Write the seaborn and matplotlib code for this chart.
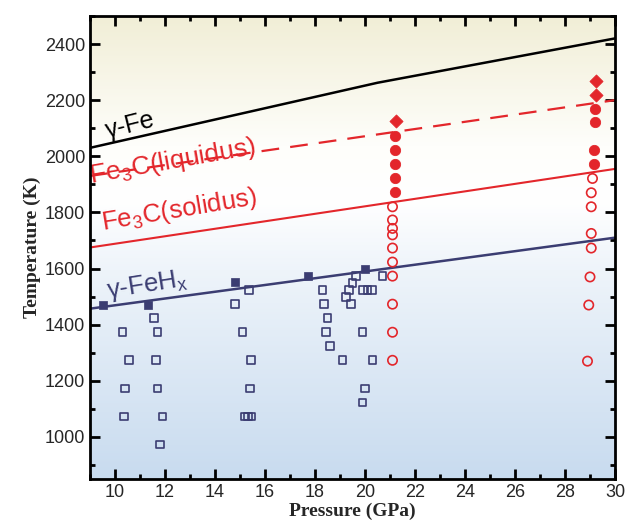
import numpy as np
import pandas as pd
import seaborn as sns
import matplotlib
matplotlib.use("Agg")
import matplotlib.pyplot as plt
from matplotlib.colors import LinearSegmentedColormap
from matplotlib.ticker import MultipleLocator

# phase boundaries (pressure GPa, temperature K)
fe_P = [9, 20.5, 30]
fe_T = [2030, 2262, 2420]
liq_P = [9, 30]
liq_T = [1930, 2200]
sol_P = [9, 30]
sol_T = [1675, 1955]
feh_P = [9, 30]
feh_T = [1457, 1710]

# gamma-FeHx, filled squares
sqf_P = [9.5, 11.3, 14.8, 17.7, 20.0]
sqf_T = [1470, 1470, 1552, 1573, 1597]

# open squares
sqo_P = [10.3, 10.55, 10.4, 10.35, 11.55, 11.7, 11.65, 11.7, 11.9, 11.8,
         14.8, 15.35, 15.1, 15.45, 15.4, 15.2, 15.33, 15.46,
         18.3, 18.35, 18.5, 18.45, 18.6, 19.1, 19.9, 20.3, 20.0, 19.9,
         19.65, 19.5, 19.35, 19.25, 19.45, 19.93, 20.1, 20.27, 20.7]
sqo_T = [1373, 1273, 1173, 1073, 1423, 1373, 1273, 1173, 1073, 973,
         1473, 1523, 1373, 1273, 1173, 1073, 1073, 1073,
         1523, 1473, 1423, 1373, 1323, 1273, 1373, 1273, 1173, 1123,
         1573, 1548, 1523, 1498, 1473, 1523, 1523, 1523, 1573]

# Fe3C runs: filled circles (melt), open circles (solid), diamonds
cf_P = [21.2, 21.2, 21.2, 21.2, 21.2, 29.2, 29.2, 29.15, 29.15]
cf_T = [2073, 2023, 1973, 1923, 1873, 2168, 2123, 2023, 1973]
co_P = [21.1, 21.1, 21.1, 21.1, 21.1, 21.1, 21.1, 21.1, 21.1, 21.1,
        29.1, 29.05, 29.05, 29.05, 29.05, 29.0, 28.95, 28.9]
co_T = [1820, 1773, 1743, 1720, 1673, 1623, 1573, 1473, 1373, 1273,
        1921, 1870, 1820, 1725, 1673, 1570, 1470, 1270]
dm_P = [21.25, 29.25, 29.25]
dm_T = [2125, 2268, 2220]

red = "#e3262b"
navy = "#3b3d72"

sns.set_style("ticks")
plt.rcParams["font.family"] = ["Liberation Sans", "DejaVu Sans"]

fig = plt.figure(figsize=(6.25, 5.32), dpi=100)
ax = fig.add_axes([0.144, 0.0996, 0.84, 0.8704])

# background gradient
cmap = LinearSegmentedColormap.from_list(
    "bg", [(0.0, "#c8dbef"), (0.45, "#eef4fa"), (0.6, "#ffffff"),
           (0.72, "#fefefb"), (1.0, "#f1eed6")])
grad = np.linspace(0, 1, 256).reshape(-1, 1)
ax.imshow(grad, cmap=cmap, origin="lower", aspect="auto",
          extent=[9, 30, 850, 2500], zorder=0)

sns.lineplot(x=fe_P, y=fe_T, color="black", lw=1.8, ax=ax, zorder=2)
sns.lineplot(x=liq_P, y=liq_T, color=red, lw=1.6, ax=ax, zorder=2,
             dashes=False).lines[-1].set_dashes([8, 5])
sns.lineplot(x=sol_P, y=sol_T, color=red, lw=1.5, ax=ax, zorder=2)
sns.lineplot(x=feh_P, y=feh_T, color=navy, lw=1.8, ax=ax, zorder=2)

sns.scatterplot(x=sqo_P, y=sqo_T, marker="s", s=30, facecolor="none",
                edgecolor=navy, linewidth=1.2, ax=ax, zorder=3)
sns.scatterplot(x=sqf_P, y=sqf_T, marker="s", s=40, color=navy,
                edgecolor=navy, ax=ax, zorder=3)
sns.scatterplot(x=co_P, y=co_T, marker="o", s=45, facecolor="none",
                edgecolor=red, linewidth=1.2, ax=ax, zorder=3)
sns.scatterplot(x=cf_P, y=cf_T, marker="o", s=55, color=red,
                edgecolor=red, ax=ax, zorder=3)
sns.scatterplot(x=dm_P, y=dm_T, marker="D", s=45, color=red,
                edgecolor=red, ax=ax, zorder=3)

ax.text(9.7, 2063, "γ-Fe", color="black", fontsize=18, rotation=14,
        rotation_mode="anchor", ha="left", va="baseline")
ax.text(9.03, 1905, r"Fe$_\mathregular{3}$C(liquidus)", color=red, fontsize=19,
        rotation=10, rotation_mode="anchor", ha="left", va="baseline")
ax.text(9.5, 1738, r"Fe$_\mathregular{3}$C(solidus)", color=red, fontsize=18.5,
        rotation=9.5, rotation_mode="anchor", ha="left", va="baseline")
ax.text(9.7, 1493, r"γ-FeH$_\mathregular{x}$", color=navy, fontsize=18.5,
        rotation=9, rotation_mode="anchor", ha="left", va="baseline")

ax.set_xlim(9, 30)
ax.set_ylim(850, 2500)
ax.xaxis.set_major_locator(MultipleLocator(2))
ax.xaxis.set_minor_locator(MultipleLocator(1))
ax.yaxis.set_major_locator(MultipleLocator(200))
ax.yaxis.set_minor_locator(MultipleLocator(100))
ax.set_xticks(range(10, 31, 2))
ax.set_yticks(range(1000, 2401, 200))
ax.tick_params(which="both", direction="in", top=True, right=True,
               width=2, labelsize=13, color="black")
ax.tick_params(which="major", length=7)
ax.tick_params(which="minor", length=3.5)
for sp in ax.spines.values():
    sp.set_linewidth(2)
    sp.set_color("black")
    sp.set_zorder(5)

ax.set_xlabel("Pressure (GPa)", family="Liberation Serif", fontweight="bold",
              fontsize=14, labelpad=1)
ax.set_ylabel("Temperature (K)", family="Liberation Serif", fontweight="bold",
              fontsize=14, labelpad=3)

fig.savefig("out.png", dpi=100)
